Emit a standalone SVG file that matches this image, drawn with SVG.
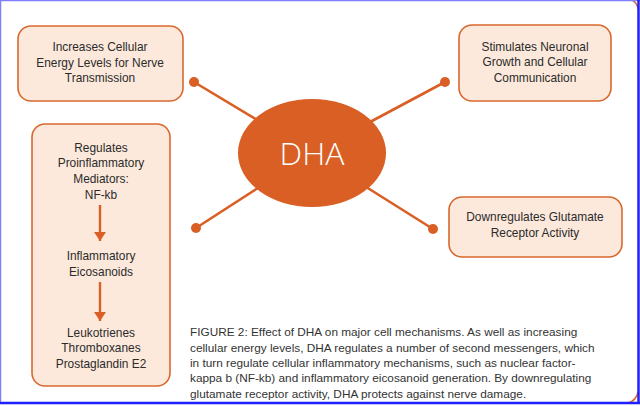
<svg xmlns="http://www.w3.org/2000/svg" width="640" height="406" viewBox="0 0 640 406">
<defs>
<style>
.box{fill:#fce9dc;stroke:#d9682e;stroke-width:1.6}
.t{font-family:"Liberation Sans",Arial,sans-serif;font-size:11.9px;fill:#2b2b2b;text-anchor:middle}
.cap{font-family:"Liberation Sans",Arial,sans-serif;font-size:11.8px;fill:#333333}
.con{stroke:#d95f24;stroke-width:2.6}
.dot{fill:#d95f24}
.arr{stroke:#d95f24;stroke-width:2.4}
</style>
<marker id="ah" viewBox="0 0 9 12" refX="9" refY="6" markerWidth="9" markerHeight="13" markerUnits="userSpaceOnUse" orient="auto">
<path d="M0,0 L9,6 L0,12 Z" fill="#d95f24"/>
</marker>
</defs>
<rect x="0" y="0" width="640" height="406" fill="#ffffff"/>
<path d="M632,0 A12,12 0 0 1 638,9" fill="none" stroke="#d9682e" stroke-width="1.5"/>
<path d="M638,392 A14,14 0 0 1 628,403" fill="none" stroke="#d9682e" stroke-width="1.5"/>
<g id="frame" fill="none">
<line x1="0" y1="0.5" x2="640" y2="0.5" stroke="#8080ff" stroke-width="1.5"/>
<line x1="0.5" y1="0" x2="0.5" y2="404" stroke="#8080ff" stroke-width="1.5"/>
<line x1="638.5" y1="0" x2="638.5" y2="404" stroke="#1f1fff" stroke-width="2.5"/>
<line x1="0" y1="403" x2="640" y2="403" stroke="#1f1fff" stroke-width="2.5"/>
</g>
<g id="connectors">
<line class="con" x1="194" y1="82" x2="312" y2="153"/>
<line class="con" x1="445" y1="82" x2="312" y2="153"/>
<line class="con" x1="196" y1="228" x2="312" y2="153"/>
<line class="con" x1="433" y1="229" x2="312" y2="153"/>
<circle class="dot" cx="194" cy="82" r="5"/>
<circle class="dot" cx="445" cy="82" r="5"/>
<circle class="dot" cx="196" cy="228" r="5"/>
<circle class="dot" cx="433" cy="229" r="5"/>
</g>
<g id="dha">
<ellipse cx="312" cy="153" rx="74" ry="54" fill="#d95f24"/>
<text x="312" y="165" font-family="'Open Sans','Liberation Sans',sans-serif" font-size="32" fill="#ffffff" text-anchor="middle" font-weight="300">DHA</text>
</g>
<g id="energy">
<rect class="box" x="18" y="26" width="165" height="75" rx="13"/>
<text class="t" x="100" y="51">Increases Cellular</text>
<text class="t" x="100" y="67">Energy Levels for Nerve</text>
<text class="t" x="100" y="82">Transmission</text>
</g>
<g id="neuronal">
<rect class="box" x="459" y="25" width="152" height="76" rx="13"/>
<text class="t" x="535" y="51">Stimulates Neuronal</text>
<text class="t" x="535" y="66">Growth and Cellular</text>
<text class="t" x="535" y="82">Communication</text>
</g>
<g id="glutamate">
<rect class="box" x="449" y="197" width="173" height="60" rx="13"/>
<text class="t" x="535" y="221">Downregulates Glutamate</text>
<text class="t" x="535" y="237">Receptor Activity</text>
</g>
<g id="inflammatory">
<rect class="box" x="32" y="124" width="138" height="262" rx="13"/>
<text class="t" x="101" y="152">Regulates</text>
<text class="t" x="101" y="167">Proinflammatory</text>
<text class="t" x="101" y="183">Mediators:</text>
<text class="t" x="101" y="199">NF-kb</text>
<line class="arr" x1="100" y1="205" x2="100" y2="241" marker-end="url(#ah)"/>
<text class="t" x="101" y="260">Inflammatory</text>
<text class="t" x="101" y="276">Eicosanoids</text>
<line class="arr" x1="100" y1="282" x2="100" y2="321" marker-end="url(#ah)"/>
<text class="t" x="101" y="337">Leukotrienes</text>
<text class="t" x="101" y="352">Thromboxanes</text>
<text class="t" x="101" y="368">Prostaglandin E2</text>
</g>
<g id="caption">
<text class="cap" x="190" y="336">FIGURE 2: Effect of DHA on major cell mechanisms. As well as increasing</text>
<text class="cap" x="190" y="352">cellular energy levels, DHA regulates a number of second messengers, which</text>
<text class="cap" x="190" y="367">in turn regulate cellular inflammatory mechanisms, such as nuclear factor-</text>
<text class="cap" x="190" y="382">kappa b (NF-kb) and inflammatory eicosanoid generation. By downregulating</text>
<text class="cap" x="190" y="398">glutamate receptor activity, DHA protects against nerve damage.</text>
</g>
</svg>
